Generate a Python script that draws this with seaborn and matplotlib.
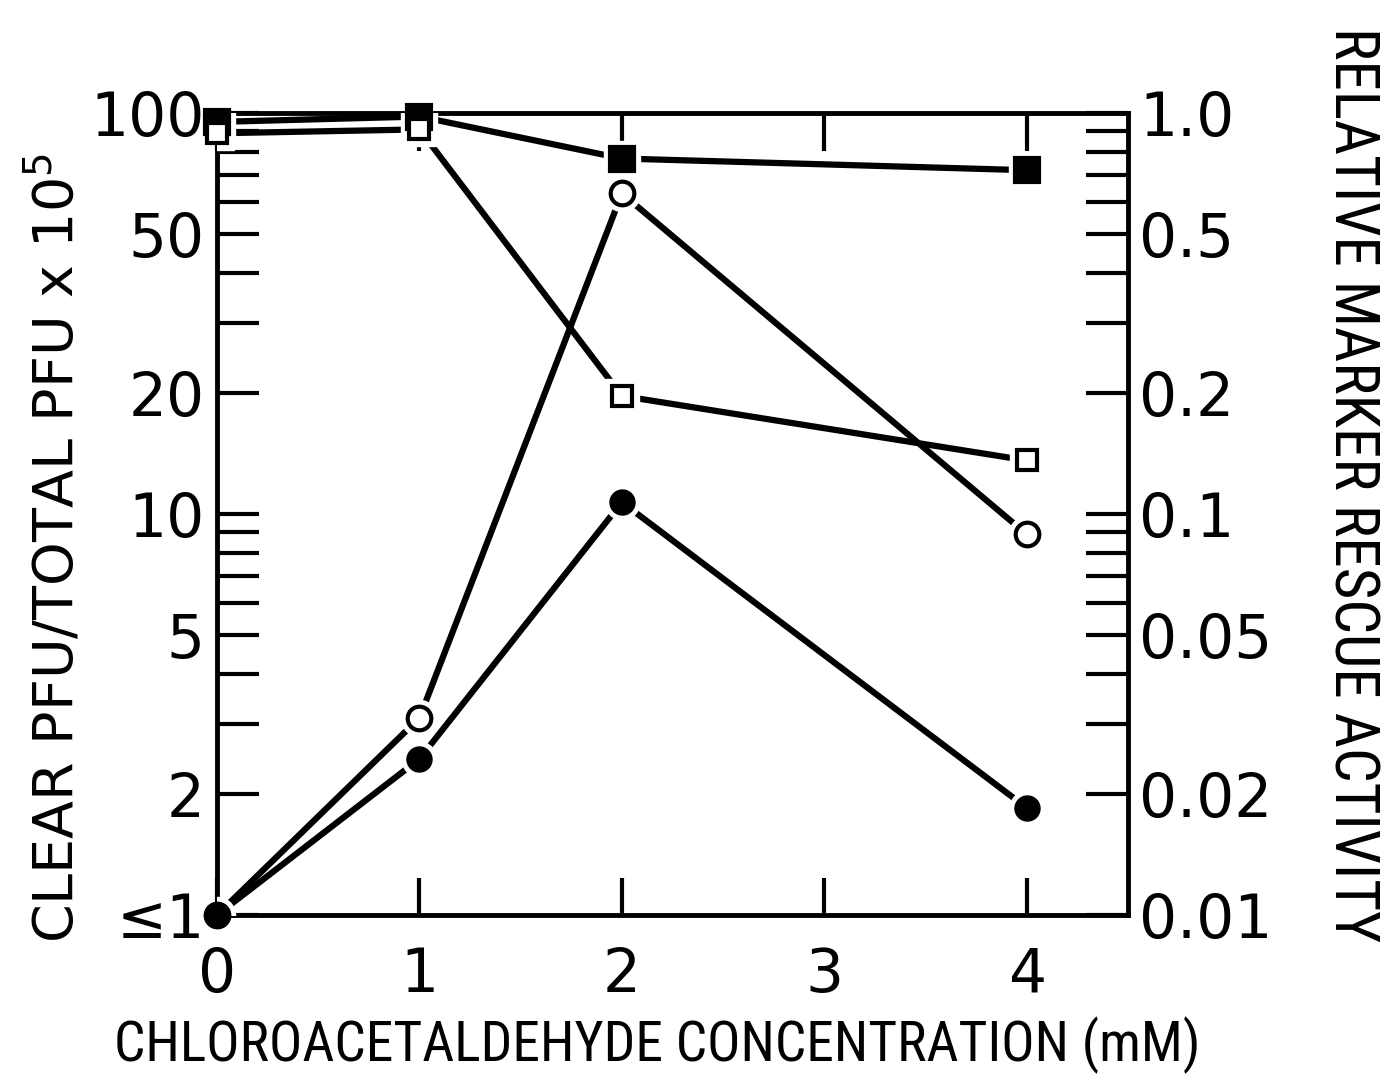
import matplotlib
matplotlib.use("Agg")
import matplotlib.pyplot as plt
from matplotlib import font_manager
import seaborn as sns
import pandas as pd

# ---- data ----
conc = [0, 1, 2, 4]
filled_squares = [95, 98, 77, 72]
open_squares = [89, 91, 19.7, 13.6]
open_circles = [1.0, 3.1, 63, 8.9]
filled_circles = [1.0, 2.45, 10.7, 1.85]

left_ticks = [1, 2, 5, 10, 20, 50, 100]
left_labels = ["≤1", "2", "5", "10", "20", "50", "100"]
right_ticks = [0.01, 0.02, 0.05, 0.1, 0.2, 0.5, 1.0]
right_labels = ["0.01", "0.02", "0.05", "0.1", "0.2", "0.5", "1.0"]
x_ticks = [0, 1, 2, 3, 4]
x_labels = ["0", "1", "2", "3", "4"]

sns.set_theme(style="white")
plt.rcParams["font.family"] = ["DejaVu Sans"]
plt.rcParams["text.color"] = "black"
plt.rcParams["xtick.color"] = "black"
plt.rcParams["ytick.color"] = "black"

# pick a narrow font if one is installed
names = {f.name for f in font_manager.fontManager.ttflist}
narrow = None
for cand in ["Liberation Sans Narrow", "Roboto Condensed", "Open Sans Condensed",
             "DejaVu Sans Condensed"]:
    if cand in names:
        narrow = cand
        break
cond_stretch = {}
if narrow is None:
    narrow = "DejaVu Sans"
    cond_stretch = {"fontstretch": "condensed"}

W, H = 1397, 1086
fig = plt.figure(figsize=(W / 100, H / 100), dpi=100)
ax = fig.add_axes([217 / W, 1 - 915 / H, (1128 - 217) / W, (915 - 113) / H])

series = [
    ("fs", filled_squares, "s", "black", "black", 17),
    ("os", open_squares, "s", "white", "black", 15),
    ("oc", open_circles, "o", "white", "black", 17),
    ("fc", filled_circles, "o", "black", "black", 16),
]

for name, vals, mk, fc, ec, ms in series:
    df = pd.DataFrame({"x": conc, "y": vals})
    sns.lineplot(data=df, x="x", y="y", ax=ax, color="black", lw=4.5,
                 sort=False, zorder=2, legend=False)
for name, vals, mk, fc, ec, ms in series:
    ax.plot(conc, vals, linestyle="none", marker=mk, markersize=ms + 9,
            markerfacecolor="white", markeredgecolor="white", zorder=3,
            clip_on=True)
for name, vals, mk, fc, ec, ms in series:
    ax.plot(conc, vals, linestyle="none", marker=mk, markersize=ms,
            markerfacecolor=fc, markeredgecolor=ec, markeredgewidth=3,
            zorder=4, clip_on=False)

ax.set_yscale("log")
ax.set_ylim(1, 100)
ax.set_xlim(0, 4.5)

ax.set_yticks(left_ticks)
ax.set_yticklabels(left_labels)
minor = [3, 4, 6, 7, 8, 9, 30, 40, 60, 70, 80, 90]
ax.set_yticks(minor, minor=True)
ax.yaxis.set_minor_formatter(matplotlib.ticker.NullFormatter())
ax.set_xticks(x_ticks)
ax.set_xticklabels(x_labels)
ax.set_xlabel("")
ax.set_ylabel("")

for sp in ax.spines.values():
    sp.set_color("black")
    sp.set_linewidth(3.5)

ax.tick_params(axis="y", which="both", direction="in", length=30, width=3,
               color="black", left=True, right=False, labelsize=43, pad=9)
ax.tick_params(axis="x", which="both", direction="in", length=27, width=3,
               color="black", bottom=True, top=True, labelsize=43, pad=22)

ax2 = ax.twinx()
ax2.set_yscale("log")
ax2.set_ylim(0.01, 1.0)
ax2.set_yticks(right_ticks)
ax2.set_yticklabels(right_labels)
ax2.set_yticks([m / 100 for m in minor], minor=True)
ax2.yaxis.set_minor_formatter(matplotlib.ticker.NullFormatter())
ax2.tick_params(axis="y", which="both", direction="in", length=30, width=3,
                color="black", right=True, left=False, labelsize=43, pad=8)
ax2.grid(False)
for sp in ax2.spines.values():
    sp.set_visible(False)

fig.text(55 / W, 1 - 548 / H, r"CLEAR PFU/TOTAL PFU x 10$^{5}$", rotation=90,
         ha="center", va="center", fontsize=40, family=["DejaVu Sans"])
fig.text(1352 / W, 1 - 485 / H, "RELATIVE MARKER RESCUE ACTIVITY", rotation=-90,
         ha="center", va="center", fontsize=44, family=[narrow, "DejaVu Sans"],
         **cond_stretch)
fig.text(657 / W, 1 - 1045 / H, "CHLOROACETALDEHYDE CONCENTRATION (mM)",
         ha="center", va="center", fontsize=40,
         family=[narrow, "DejaVu Sans"], **cond_stretch)

fig.savefig("out.png", dpi=100, facecolor="white")
